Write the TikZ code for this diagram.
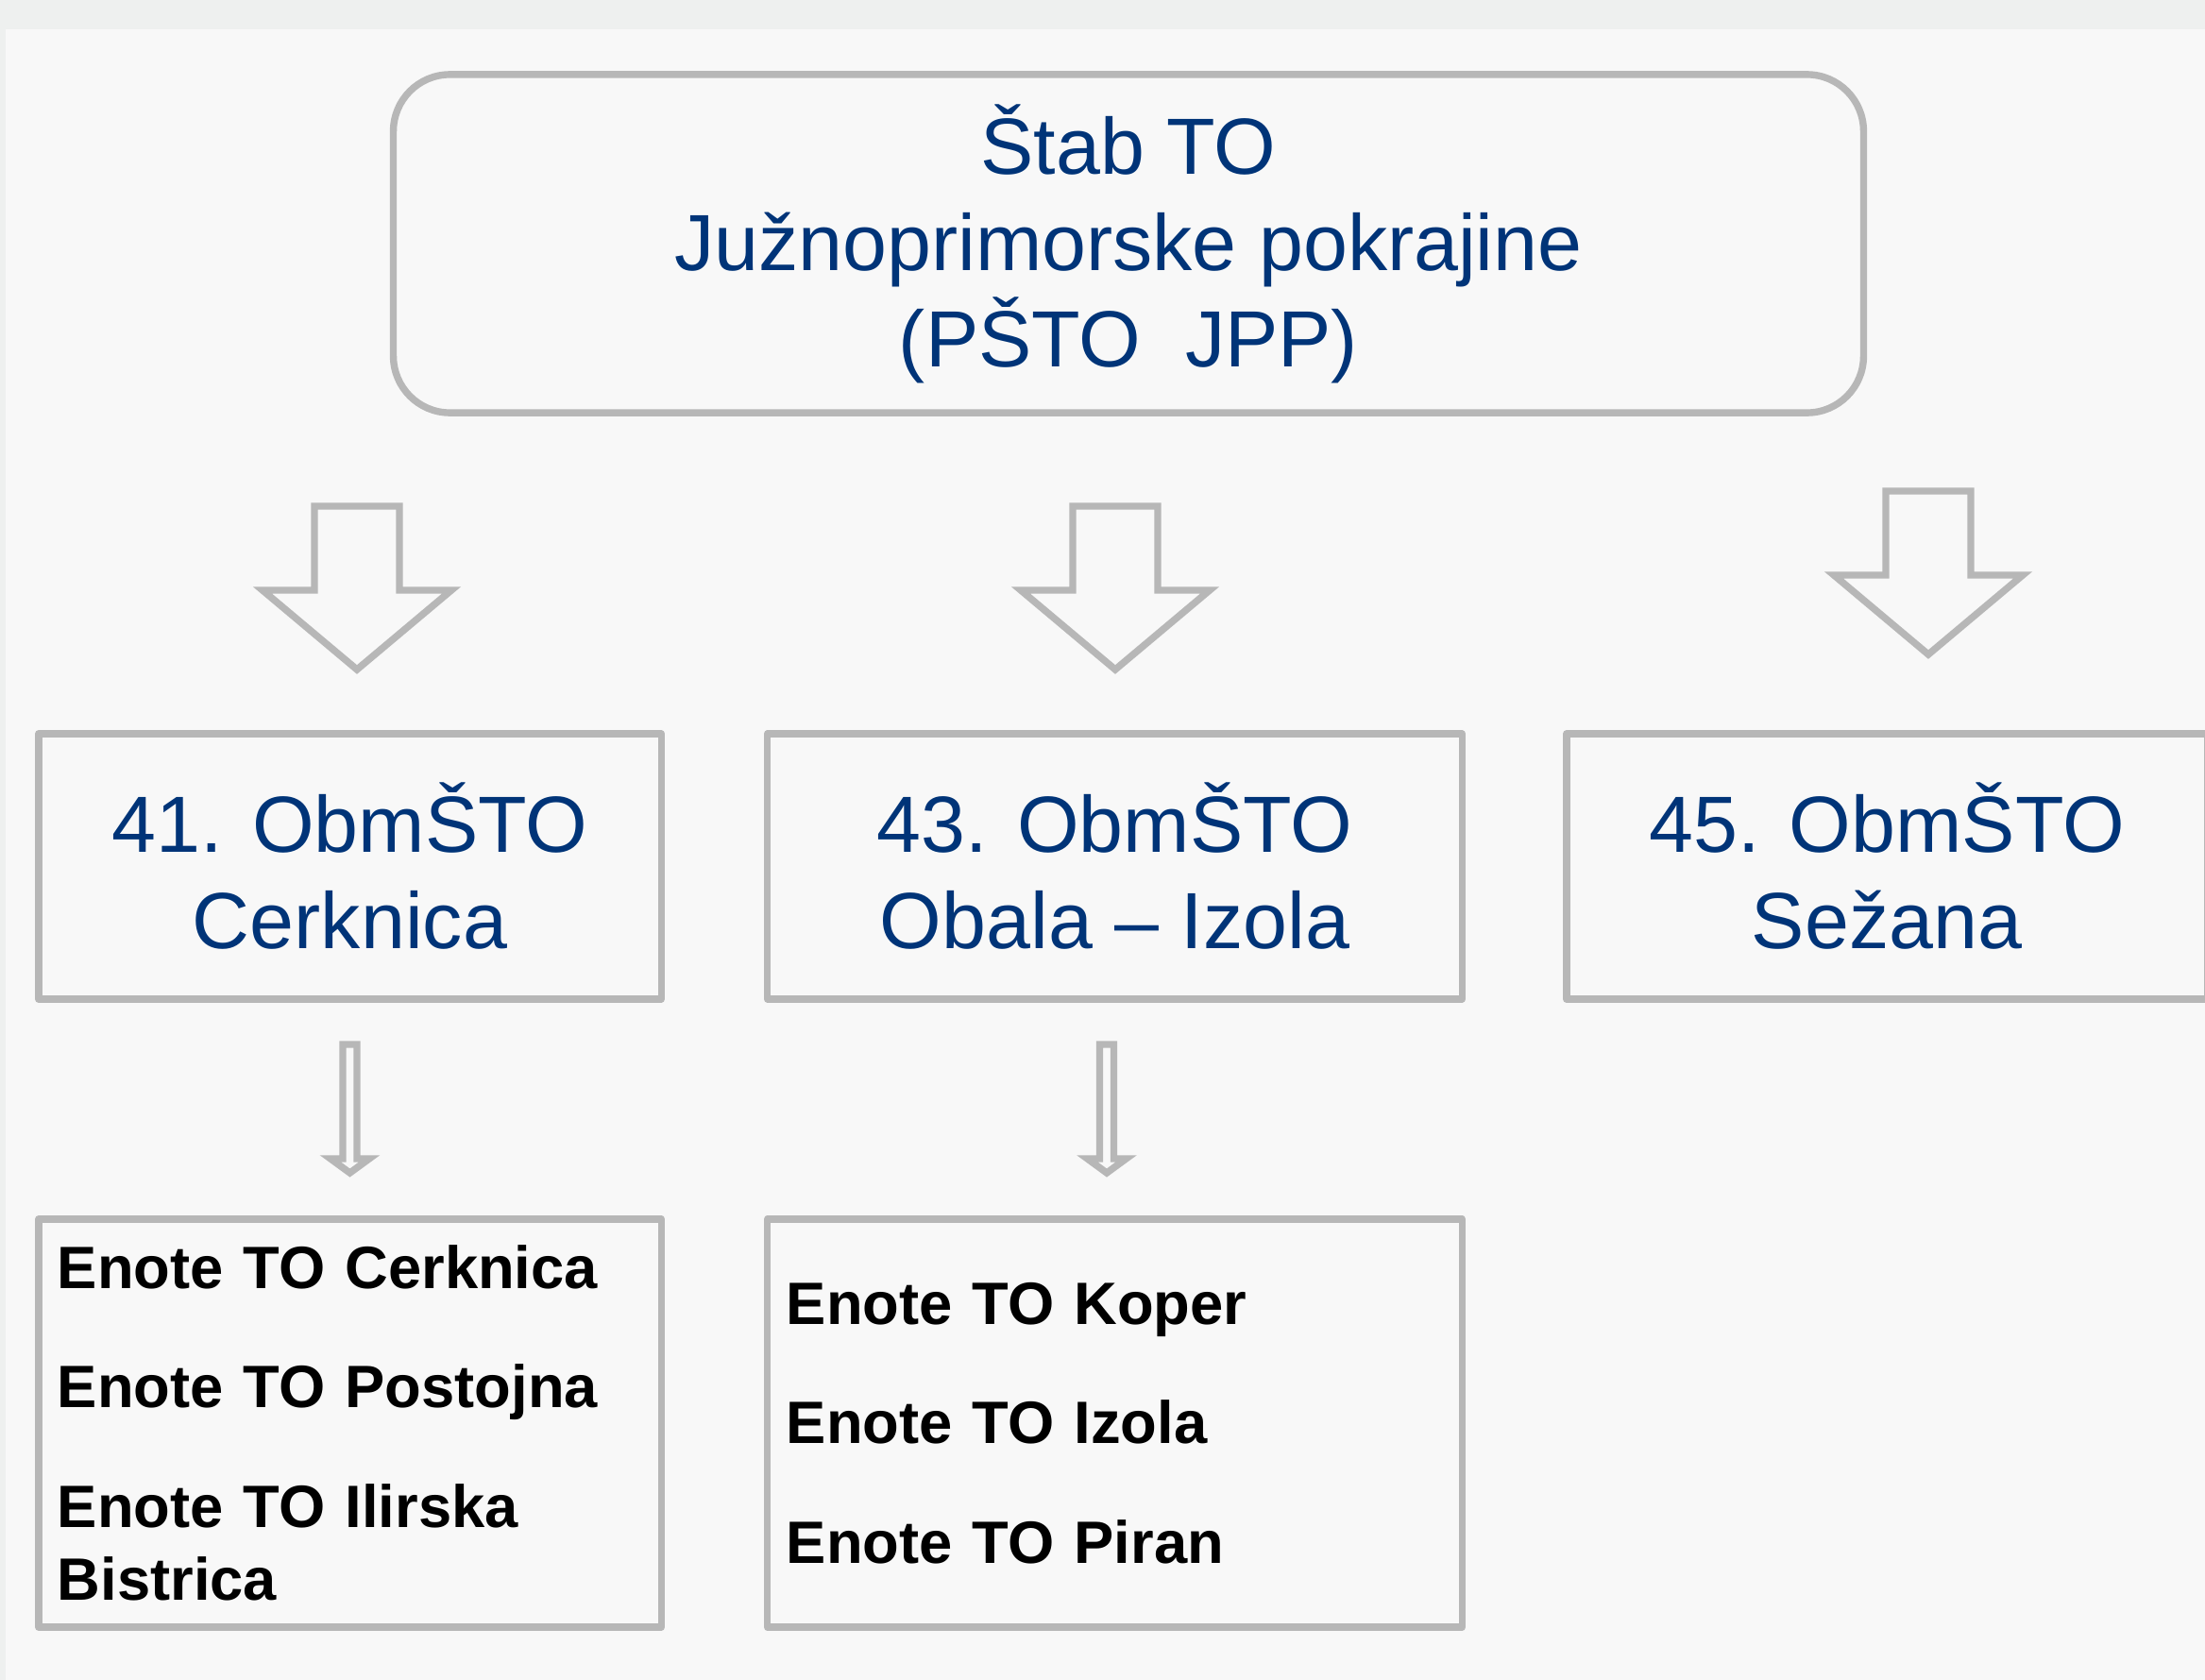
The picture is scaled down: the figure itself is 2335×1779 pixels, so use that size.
\documentclass[tikz,border=0pt]{standalone}
\usepackage{fontspec}
\setmainfont{Liberation Sans}
\usepackage{tikz}
\usetikzlibrary{positioning}
\definecolor{toblue}{RGB}{0,52,120}
\definecolor{togray}{RGB}{183,183,183}
\definecolor{pagebg}{RGB}{248,248,248}
\definecolor{stripbg}{RGB}{238,240,239}
\tikzstyle{unitbox} = [draw=togray, line width=2.1pt, line join=round, fill=pagebg, inner sep=0pt]
\tikzstyle{hollow} = [draw=togray, line width=2.1pt, fill=pagebg, line join=miter]
\tikzstyle{bluetext} = [text=toblue, align=center, font=\fontsize{24}{29}\selectfont]
\tikzstyle{listtext} = [text=black, align=left, inner xsep=0.2cm, font=\fontsize{18}{22}\selectfont\bfseries]

\begin{document}
\begin{tikzpicture}[x=0.01cm, y=-0.01cm]
% Background
\fill[stripbg] (0,0) rectangle (2335,1779);
\fill[pagebg] (6,31) rectangle (2335,1779);
\useasboundingbox (0,0) rectangle (2335,1779);

% Headquarters
\node[unitbox, bluetext, rounded corners=0.6cm, minimum width=15.56cm, minimum height=3.58cm] (stab) at (1195,258) {Štab TO\\Južnoprimorske pokrajine\\(PŠTO~~JPP)};

% District staffs
\node[unitbox, bluetext, minimum width=6.59cm, minimum height=2.81cm] (cerk) at (370.5,917.5) {41. ObmŠTO\\Cerknica};
\node[unitbox, bluetext, minimum width=7.35cm, minimum height=2.81cm] (obala) at (1180.5,917.5) {43. ObmŠTO\\Obala – Izola};
\node[unitbox, bluetext, minimum width=6.78cm, minimum height=2.81cm] (sez) at (1998,917.5) {45. ObmŠTO\\Sežana};

% Units
\node[unitbox, listtext, minimum width=6.59cm, minimum height=4.32cm, text width=6.19cm] (enotec) at (370.5,1507) {Enote TO Cerknica\\[14pt]Enote TO Postojna\\[14pt]Enote TO Ilirska\\Bistrica};
\node[unitbox, listtext, minimum width=7.35cm, minimum height=4.32cm, text width=6.95cm] (enoteo) at (1180.5,1507) {Enote TO Koper\\[14pt]Enote TO Izola\\[14pt]Enote TO Piran};

% Big arrows
\foreach \x/\y in {378/536, 1181/536, 2042/520} {
    \draw[hollow] (\x-45,\y) -- (\x+45,\y) -- (\x+45,\y+89) -- (\x+100,\y+89)
        -- (\x,\y+173) -- (\x-100,\y+89) -- (\x-45,\y+89) -- cycle;
}

% Small arrows
\foreach \x in {370.5,1172} {
    \draw[hollow] (\x-7.5,1106) -- (\x+7.5,1106) -- (\x+7.5,1227) -- (\x+20.5,1227)
        -- (\x,1242) -- (\x-20.5,1227) -- (\x-7.5,1227) -- cycle;
}
\end{tikzpicture}
\end{document}
